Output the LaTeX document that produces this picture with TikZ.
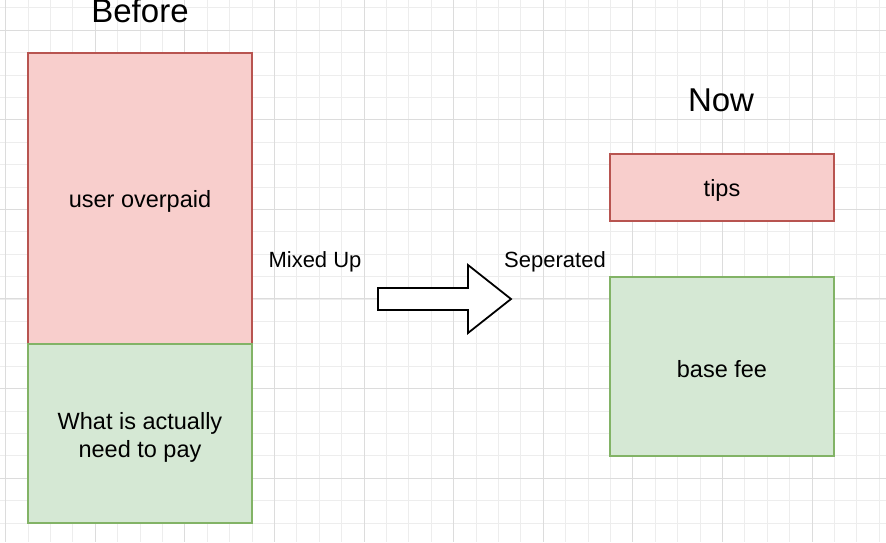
\documentclass[tikz,border=0pt]{standalone}
\usepackage{fontspec}
\setmainfont{Liberation Sans}
\definecolor{redfill}{HTML}{F8CECC}
\definecolor{redline}{HTML}{B85450}
\definecolor{greenfill}{HTML}{D5E8D4}
\definecolor{greenline}{HTML}{82B366}
\definecolor{minorgrid}{HTML}{EDEDED}
\definecolor{majorgrid}{HTML}{DCDCDC}
\begin{document}
\begin{tikzpicture}[x=1pt,y=-1pt,
  redbox/.style={draw=redline,fill=redfill,line width=1.2pt,minimum width=224pt,inner sep=0pt,font=\fontsize{23.5}{28.5}\selectfont,align=center},
  greenbox/.style={draw=greenline,fill=greenfill,line width=1.2pt,minimum width=224pt,inner sep=0pt,font=\fontsize{23.5}{28.5}\selectfont,align=center},
  txt/.style={font=\fontsize{23.5}{28.5}\selectfont,inner sep=0pt,align=center},
  title/.style={font=\fontsize{33}{38}\selectfont,inner sep=0pt,anchor=base},
  lbl/.style={font=\fontsize{22}{26}\selectfont,inner sep=0pt}]
\useasboundingbox (0,0) rectangle (886,542);
\fill[white] (0,0) rectangle (886,542);
% minor grid
\foreach \i in {0,...,40} {
  \draw[minorgrid,line width=0.6pt] ({5.5+22.4*(\i-1)},0) -- ({5.5+22.4*(\i-1)},542);
}
\foreach \i in {0,...,25} {
  \draw[minorgrid,line width=0.6pt] (0,{30+22.4*(\i-2)}) -- (886,{30+22.4*(\i-2)});
}
% major grid
\foreach \i in {0,...,9} {
  \draw[majorgrid,line width=0.7pt] ({5.5+89.6*\i},0) -- ({5.5+89.6*\i},542);
}
\foreach \i in {0,...,6} {
  \draw[majorgrid,line width=0.7pt] (0,{30+89.6*\i}) -- (886,{30+89.6*\i});
}
% left stack
\node[redbox,minimum height=291pt] (over) at (140,198.5) {};
\node[txt] at (140,201.5) {user overpaid};
\node[greenbox,minimum height=179pt] (need) at (140,433.5) {};
\node[txt] at (140,437.5) {What is actually\\need to pay};
\node[title] (before) at (140,22) {Before};
% right
\node[title] (now) at (721,111) {Now};
\node[redbox,minimum height=67pt] (tips) at (722,187.5) {};
\node[txt] at (722,190) {tips};
\node[greenbox,minimum height=179pt] (base) at (722,366.5) {};
\node[txt] at (722,369.5) {base fee};
% labels
\node[lbl] (mixed) at (315,262) {Mixed Up};
\node[lbl] (sep) at (555,262) {Seperated};
% big arrow
\coordinate (arr) at (378,299);
\draw[line width=1.8pt,fill=white,line join=miter]
  (arr) ++(0,-11) -- ++(90,0) -- ++(0,-23) -- ++(43,34) -- ++(-43,34) -- ++(0,-23) -- ++(-90,0) -- cycle;
\end{tikzpicture}
\end{document}
